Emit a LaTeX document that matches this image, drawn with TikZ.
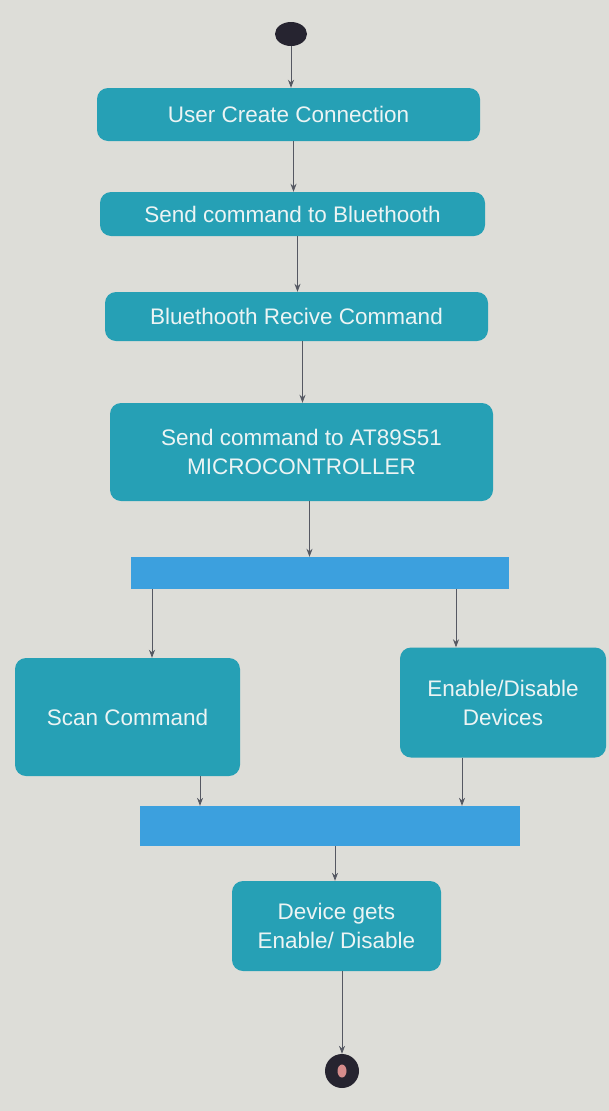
\documentclass[tikz,border=0pt]{standalone}
\usepackage{fontspec}
\setmainfont{Liberation Sans}
\usetikzlibrary{arrows.meta,shapes.geometric}
\definecolor{bg}{RGB}{221,221,216}
\definecolor{boxfill}{RGB}{38,160,181}
\definecolor{barfill}{RGB}{60,160,222}
\definecolor{txt}{RGB}{236,244,244}
\definecolor{lin}{RGB}{85,88,98}
\definecolor{dot}{RGB}{38,36,48}
\definecolor{pink}{RGB}{214,140,140}
\tikzset{
  act/.style={draw=none, fill=boxfill, rounded corners=11pt, text=txt, align=center,
    font=\fontsize{22.5}{29}\selectfont, inner sep=0pt},
  syncbar/.style={draw=none, fill=barfill, inner sep=0pt},
  arr/.style={draw=lin, line width=0.8pt, -{Stealth[length=8pt,width=6pt]}},
}
\begin{document}
\begin{tikzpicture}[x=1pt,y=-1pt]
\fill[bg] (0,0) rectangle (609,1111);
\useasboundingbox (0,0) rectangle (609,1111);
% start
\node[ellipse, fill=dot, minimum width=32pt, minimum height=24pt, inner sep=0pt] (start) at (291,34) {};
% actions
\node[act, minimum width=383pt, minimum height=53pt] (b1) at (288.5,114.5) {User Create Connection};
\node[act, minimum width=385pt, minimum height=44pt] (b2) at (292.5,214) {Send command to Bluethooth};
\node[act, minimum width=383pt, minimum height=49pt] (b3) at (296.5,316.5) {Bluethooth Recive Command};
\node[act, minimum width=383pt, minimum height=98pt] (b4) at (301.5,452) {Send command to AT89S51\\MICROCONTROLLER};
\node[syncbar, minimum width=378pt, minimum height=32pt] (bar1) at (320,573) {};
\node[act, minimum width=225pt, minimum height=118pt] (scan) at (127.5,717) {Scan Command};
\node[act, minimum width=206pt, minimum height=110pt] (en) at (503,702.5) {Enable/Disable\\Devices};
\node[syncbar, minimum width=380pt, minimum height=40pt] (bar2) at (330,826) {};
\node[act, minimum width=209pt, minimum height=90pt] (dev) at (336.5,926) {Device gets\\Enable/ Disable};
% end
\node[circle, fill=dot, minimum size=34pt, inner sep=0pt] (end) at (342,1071) {};
\node[ellipse, fill=pink, minimum width=9pt, minimum height=13pt, inner sep=0pt] (endin) at (end.center) {};
% connectors
\draw[arr] (start.south) -- (start.south |- b1.north);
\draw[arr] ([xshift=5pt]b1.south) -- ([xshift=5pt]b1.south |- b2.north);
\draw[arr] ([xshift=5pt]b2.south) -- ([xshift=5pt]b2.south |- b3.north);
\draw[arr] ([xshift=6pt]b3.south) -- ([xshift=6pt]b3.south |- b4.north);
\draw[arr] ([xshift=8pt]b4.south) -- ([xshift=8pt]b4.south |- bar1.north);
\draw[arr] ([xshift=24.5pt]scan.north |- bar1.south) -- ([xshift=24.5pt]scan.north);
\draw[arr] ([xshift=-47pt]en.north |- bar1.south) -- ([xshift=-47pt]en.north);
\draw[arr] ([xshift=72.5pt]scan.south) -- ([xshift=72.5pt]scan.south |- bar2.north);
\draw[arr] ([xshift=-41pt]en.south) -- ([xshift=-41pt]en.south |- bar2.north);
\draw[arr] ([xshift=-1.5pt]dev.north |- bar2.south) -- ([xshift=-1.5pt]dev.north);
\draw[arr] ([xshift=5.5pt]dev.south) -- (end.north);
\end{tikzpicture}
\end{document}
